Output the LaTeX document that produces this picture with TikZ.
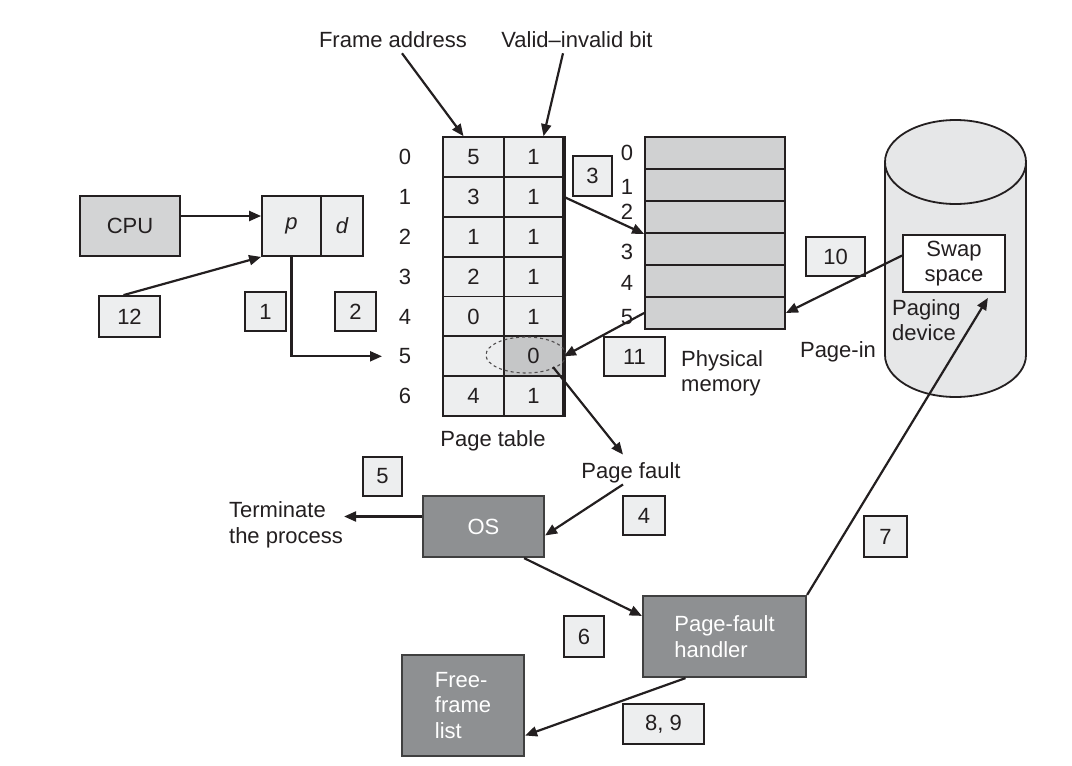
\documentclass[tikz,border=0pt]{standalone}
\usepackage{fontspec}
\setmainfont{Liberation Sans}
\usetikzlibrary{arrows.meta,calc,shapes.geometric}
\definecolor{lightbox}{HTML}{EDEEEF}
\definecolor{cpugray}{HTML}{D3D4D5}
\definecolor{memgray}{HTML}{D0D1D2}
\definecolor{darkfill}{HTML}{8E9092}
\definecolor{cylgray}{HTML}{E6E7E8}
\definecolor{selgray}{HTML}{C5C6C7}
\definecolor{ink}{HTML}{231F20}
\begin{document}
\begin{tikzpicture}[x=1pt,y=-1pt,
  every node/.style={font=\fontsize{22}{25.5}\selectfont, text=ink},
  numbox/.style={draw=ink, fill=lightbox, line width=1.8pt, inner sep=0pt},
  cell/.style={draw=ink, fill=lightbox, line width=1.8pt, inner sep=0pt, minimum height=39.86pt},
  memcell/.style={draw=ink, fill=memgray, line width=1.8pt, inner sep=0pt, minimum width=140pt, minimum height=32pt},
  darkbox/.style={draw=black!75, fill=darkfill, line width=2.2pt, inner sep=0pt, text=white},
  lbl/.style={inner sep=1pt},
  arr/.style={draw=ink, line width=2.2pt, -{Triangle[length=12pt,width=10pt]}}
]
\useasboundingbox (0,0) rectangle (1072,766);

% top labels
\node[lbl] (fa) at (393,40) {Frame address};
\node[lbl] (vb) at (577,40) {Valid–invalid bit};

% page table
\foreach \r/\a/\b in {0/5/1,1/3/1,2/1/1,3/2/1,4/0/1,6/4/1}{
  \pgfmathsetmacro\yy{157+39.86*\r}
  \node[cell, minimum width=61pt] (pt-\r-1) at (473.5,\yy) {\a};
  \node[cell, minimum width=59pt] (pt-\r-2) at (533.5,\yy) {\b};
  \node[lbl] (r\r) at (405,\yy) {\r};
}
\node[cell, minimum width=61pt] (pt-5-1) at (473.5,356.3) {};
\node[cell, minimum width=59pt, fill=selgray] (pt-5-2) at (533.5,356.3) {0};
\node[lbl] (r5) at (405,356.3) {5};
\draw[ink, line width=3.5pt] (pt-0-2.north east) -- (pt-6-2.south east);
\node[ellipse, draw=ink!80, dashed, line width=1.1pt, minimum width=80pt, minimum height=36pt, inner sep=0pt] (ell) at (526,355) {};
\node[lbl] (ptl) at (493,441) {Page table};

% CPU and address
\node[draw=ink, fill=cpugray, line width=1.8pt, minimum width=100pt, minimum height=60pt, inner sep=0pt] (cpu) at (130,226) {CPU};
\node[numbox, minimum width=59pt, minimum height=60pt] (pd-p) at (291.5,226) {\itshape p};
\node[numbox, minimum width=42pt, minimum height=60pt] (pd-d) at (342,226) {\itshape d};

% number boxes
\node[numbox, minimum width=61pt, minimum height=41pt] (b12) at (129.5,316.5) {12};
\node[numbox, minimum width=41pt, minimum height=39pt] (b1) at (265.5,311.5) {1};
\node[numbox, minimum width=41pt, minimum height=39pt] (b2) at (355.5,311.5) {2};
\node[numbox, minimum width=39pt, minimum height=40pt] (b3) at (592.5,176) {3};
\node[numbox, minimum width=59pt, minimum height=39pt] (b10) at (835.5,256.5) {10};
\node[numbox, minimum width=61pt, minimum height=39pt] (b11) at (634.5,356.5) {11};
\node[numbox, minimum width=39pt, minimum height=39pt] (b5) at (382.5,476.5) {5};
\node[numbox, minimum width=42pt, minimum height=39pt] (b4) at (644,515.5) {4};
\node[numbox, minimum width=43pt, minimum height=41pt] (b7) at (885.5,536.5) {7};
\node[numbox, minimum width=40pt, minimum height=41pt] (b6) at (584,636.5) {6};
\node[numbox, minimum width=81pt, minimum height=40pt] (b89) at (663.5,724) {8, 9};

% physical memory
\foreach \r in {0,...,5}{
  \node[memcell] (m\r) at (715,{153+32*\r}) {};
}
\foreach \r/\yy in {0/153,1/187,2/212,3/252,4/283,5/317}{
  \node[lbl] (ml\r) at (627,\yy) {\r};
}
\node[lbl, anchor=west, align=left] (pm) at (680,373.5) {Physical\\memory};
\node[lbl] (pin) at (838,352) {Page-in};

% paging device (cylinder)
\draw[fill=cylgray, draw=ink, line width=1.8pt] (955.5,355) ellipse [x radius=70.5pt, y radius=42pt];
\fill[cylgray] (885,162) rectangle (1026,355);
\draw[ink, line width=1.8pt] (885,162) -- (885,355) (1026,162) -- (1026,355);
\draw[fill=cylgray, draw=ink, line width=1.8pt] (955.5,162) ellipse [x radius=70.5pt, y radius=42pt];
\node[draw=ink, fill=white, line width=1.8pt, minimum width=102pt, minimum height=57pt, inner sep=0pt, align=center] (swap) at (954,263.5) {Swap\\space};
\node[lbl, anchor=west, align=left] (pdev) at (891,320) {Paging\\device};

% OS etc.
\node[lbl, align=left] (term) at (286,525) {Terminate\\the process};
\node[lbl] (pf) at (631,473) {Page fault};
\node[darkbox, minimum width=121pt, minimum height=61pt] (os) at (483.5,526.5) {OS};
\node[darkbox, minimum width=163pt, minimum height=81pt, align=left] (pfh) at (724.5,636.5) {Page-fault\\handler};
\node[darkbox, minimum width=122pt, minimum height=101pt, align=left] (ffl) at (463,705.5) {Free-\\frame\\list};

% connectors
\draw[arr] ([xshift=9pt,yshift=-4pt]fa.south) -- ([xshift=-10pt]pt-0-1.north);
\draw[arr] ([xshift=-14pt,yshift=-4pt]vb.south) -- ([xshift=10pt]pt-0-2.north);
\draw[arr] ([yshift=10pt]cpu.east) -- ([yshift=10pt]pd-p.west);
\draw[arr] ([xshift=-6pt]b12.north) -- (pd-p.south west);
\draw[arr] (pd-p.south) |- ($(r5.center)+(-23,0)$);
\draw[arr] (pt-1-2.east) -- (m2.south west);
\draw[arr] ([yshift=8pt]swap.west) -- (m5.east);
\draw[arr] (m5.west) -- (pt-5-2.east);
\draw[arr] ($(ell.center)+(27,12)$) -- ([xshift=-8pt,yshift=7pt]pf.north);
\draw[arr] ([xshift=-8pt]pf.south) -- ([yshift=-9pt]os.east);
\draw[arr] ([yshift=10pt]os.west) -- ([yshift=10pt]os.west -| term.east);
\draw[arr] ([xshift=-21pt]os.south east) -- ([yshift=-21pt]pfh.north west);
\draw[arr] (pfh.north east) -- ([xshift=-18pt,yshift=-5pt]swap.south east);
\draw[arr] ([xshift=-39pt]pfh.south) -- ([yshift=-30pt]ffl.east);
\end{tikzpicture}
\end{document}
